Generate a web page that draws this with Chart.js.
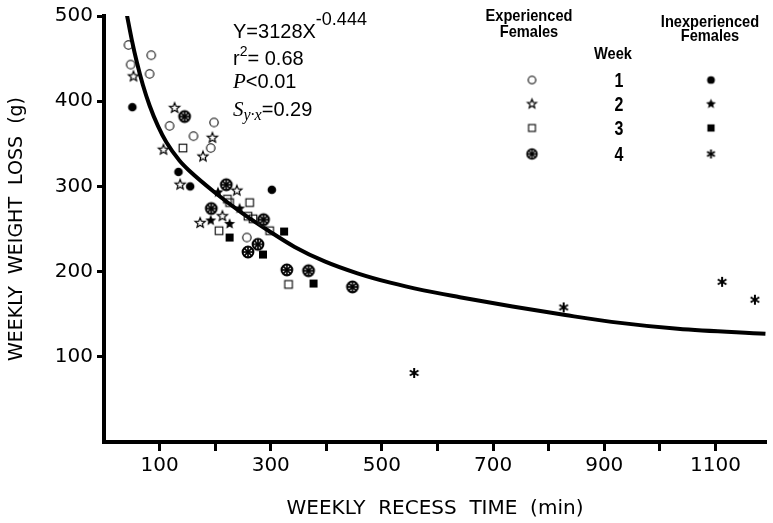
<!DOCTYPE html>
<html>
<head>
<meta charset="utf-8">
<title>Weekly weight loss vs weekly recess time</title>
<script src="https://cdn.jsdelivr.net/npm/chart.js@4.4.0/dist/chart.umd.min.js"></script>
<style>
  html, body { margin: 0; padding: 0; background: #fff; }
  #wrap { position: relative; width: 773px; height: 523px; overflow: hidden; }
  #chart { position: absolute; left: 0; top: 0; }
  .note { position: absolute; font-family: "Liberation Sans", Arial, sans-serif; font-size: 20px; line-height: 20px; color: #000; white-space: nowrap; }
  .it { font-family: "Liberation Serif", "DejaVu Serif", serif; font-style: italic; }
  .key { position: absolute; font-family: "Liberation Sans", Arial, sans-serif; font-weight: bold; font-size: 17px; line-height: 16px; color: #000; text-align: center; white-space: nowrap; transform: translateX(-50%) scaleX(0.86); }
  .num { position: absolute; font-family: "Liberation Sans", Arial, sans-serif; font-weight: bold; font-size: 20px; line-height: 20px; color: #000; transform: translateX(-50%) scaleX(0.8); }
</style>
</head>
<body>
<div id="wrap">
  <canvas id="chart" width="773" height="523"></canvas>

  <!-- regression text -->
  <div class="note" style="left:233px;top:21px">Y=3128X<span style="position:relative;top:-13px;font-size:18px">-0.444</span></div>
  <div class="note" style="left:233px;top:48px">r<span style="position:relative;top:-9px;font-size:14px">2</span>= 0.68</div>
  <div class="note" style="left:233px;top:71px"><span class="it" style="font-size:21px">P</span>&lt;0.01</div>
  <div class="note" style="left:233px;top:99px"><span class="it" style="font-size:21px">S</span><span class="it" style="position:relative;top:4px;font-size:16px">y·x</span>=0.29</div>

  <!-- key headings -->
  <div class="key" style="left:529px;top:8px">Experienced<br>Females</div>
  <div class="key" style="left:613px;top:46px">Week</div>
  <div class="key" style="left:710px;top:15px;line-height:14px">Inexperienced<br>Females</div>
  <div id="weekNums"></div>
</div>

<script>
// Experienced females, week 1..4  [recess min, weight loss g]
const expWeek1 = [[44,466],[85,454],[48,443],[82,432],[198,375],[118,371],[161,359],[192,345],[257,240]];
const expWeek2 = [[53,429],[127,392],[195,357],[107,343],[178,335],[137,302],[239,295],[213,265],[173,257]];
const expWeek3 = [[142,345],[222,285],[226,281],[262,281],[259,265],[268,262],[207,248],[298,248],[332,185]];
const expWeek4 = [[145,382],[220,302],[193,274],[287,261],[277,232],[259,223],[329,202],[368,201],[447,182]];

// Inexperienced females, week 1..4
const inexWeek1 = [[51,393],[134,317],[155,300],[302,296]];
const inexWeek2 = [[205,293],[244,274],[192,260],[226,256]];
const inexWeek3 = [[324,247],[226,240],[286,220],[377,186]];
const inexWeek4 = [[558,81],[827,158],[1112,188],[1171,167]];

// fitted curve
const fitX = [41, 50, 59, 70, 82, 97, 112, 136, 154, 201, 248, 296, 343, 397, 456, 515, 575, 640, 735, 830, 913, 1032, 1190];
const fitY = [502, 472, 446, 419, 395, 371, 352, 330, 318, 292, 269, 248, 229, 212, 198, 187, 178, 170, 159, 149, 141, 133, 127];

// axis ticks (x labelled only on the odd hundreds)
const xTicks = [100, 200, 300, 400, 500, 600, 700, 800, 900, 1000, 1100];
const xTickLabels = ['100', '300', '500', '700', '900', '1100'];
const yTicks = [100, 200, 300, 400, 500];

const weeks = ['1', '2', '3', '4'];

// draw one marker shape onto a small canvas so it can be used as a pointStyle
function makeSymbol(kind, s) {
  const size = Math.ceil(16 * s) + 2;
  const cv = document.createElement('canvas');
  cv.width = size; cv.height = size;
  const ctx = cv.getContext('2d');
  const c = size / 2;
  ctx.strokeStyle = '#000';
  ctx.fillStyle = '#000';

  function star(ro, ri) {
    ctx.beginPath();
    for (let i = 0; i < 10; i++) {
      const r = i % 2 ? ri : ro;
      const a = -Math.PI / 2 + i * Math.PI / 5;
      ctx.lineTo(c + r * Math.cos(a), c + r * Math.sin(a));
    }
    ctx.closePath();
  }

  switch (kind) {
    case 'openCircle':
      ctx.lineWidth = 1.1;
      ctx.beginPath(); ctx.arc(c, c, 4.2 * s, 0, Math.PI * 2); ctx.stroke();
      break;
    case 'openStar':
      ctx.lineWidth = 1.2;
      star(5.3 * s, 2.3 * s); ctx.stroke();
      break;
    case 'openSquare':
      ctx.lineWidth = 1.1;
      ctx.strokeRect(c - 3.8 * s, c - 3.8 * s, 7.6 * s, 7.6 * s);
      break;
    case 'wheel':
      ctx.fillStyle = '#fff';
      ctx.beginPath(); ctx.arc(c, c, 6.3 * s, 0, Math.PI * 2); ctx.fill();
      ctx.lineWidth = 2 * s;
      ctx.beginPath(); ctx.arc(c, c, 5.4 * s, 0, Math.PI * 2); ctx.stroke();
      ctx.lineWidth = 1.7 * s;
      for (let i = 0; i < 4; i++) {
        const a = i * Math.PI / 4;
        ctx.beginPath();
        ctx.moveTo(c - 5.4 * s * Math.cos(a), c - 5.4 * s * Math.sin(a));
        ctx.lineTo(c + 5.4 * s * Math.cos(a), c + 5.4 * s * Math.sin(a));
        ctx.stroke();
      }
      break;
    case 'dot':
      ctx.beginPath(); ctx.arc(c, c, 4.3 * s, 0, Math.PI * 2); ctx.fill();
      break;
    case 'filledStar':
      star(5.8 * s, 2.6 * s); ctx.fill();
      break;
    case 'filledSquare':
      ctx.fillRect(c - 4 * s, c - 4 * s, 8 * s, 8 * s);
      break;
    case 'asterisk':
      ctx.lineWidth = 2 * s;
      for (let i = 0; i < 3; i++) {
        const a = Math.PI / 2 + i * Math.PI / 3;
        ctx.beginPath();
        ctx.moveTo(c - 5 * s * Math.cos(a), c - 5 * s * Math.sin(a));
        ctx.lineTo(c + 5 * s * Math.cos(a), c + 5 * s * Math.sin(a));
        ctx.stroke();
      }
      break;
  }
  return cv;
}

const expShapes = ['openCircle', 'openStar', 'openSquare', 'wheel'];
const inexShapes = ['dot', 'filledStar', 'filledSquare', 'asterisk'];

function toPoints(arr) {
  return arr.map(p => ({ x: p[0], y: p[1] }));
}

function pointSet(label, arr, shape) {
  return {
    label: label,
    data: toPoints(arr),
    pointStyle: makeSymbol(shape, 1),
    pointRadius: 6,
    showLine: false
  };
}

const expGroups = [expWeek1, expWeek2, expWeek3, expWeek4];
const inexGroups = [inexWeek1, inexWeek2, inexWeek3, inexWeek4];

const datasets = [];
expGroups.forEach((g, i) => datasets.push(pointSet('Experienced week ' + weeks[i], g, expShapes[i])));
inexGroups.forEach((g, i) => datasets.push(pointSet('Inexperienced week ' + weeks[i], g, inexShapes[i])));

// curve last so the markers sit on top of it
datasets.push({
  type: 'line',
  label: 'Y=3128X^-0.444',
  data: fitX.map((x, i) => ({ x: x, y: fitY[i] })),
  borderColor: '#000',
  borderWidth: 4,
  pointRadius: 0,
  fill: false,
  cubicInterpolationMode: 'monotone'
});

// week numbers in the key
const keyRows = [80, 104, 128, 154];
const numBox = document.getElementById('weekNums');
weeks.forEach((w, i) => {
  const d = document.createElement('div');
  d.className = 'num';
  d.style.left = '619px';
  d.style.top = (keyRows[i] - 10) + 'px';
  d.textContent = w;
  numBox.appendChild(d);
});

// key symbols drawn next to the week numbers
const keyPlugin = {
  id: 'keySymbols',
  afterDraw(chart) {
    const ctx = chart.ctx;
    keyRows.forEach((y, i) => {
      const a = makeSymbol(expShapes[i], 0.9);
      const b = makeSymbol(inexShapes[i], 0.9);
      ctx.drawImage(a, 532 - a.width / 2, y - a.height / 2);
      ctx.drawImage(b, 711 - b.width / 2, y - b.height / 2);
    });
  }
};

new Chart(document.getElementById('chart'), {
  type: 'scatter',
  data: { datasets: datasets },
  options: {
    responsive: false,
    animation: false,
    devicePixelRatio: 1,
    events: [],
    layout: { padding: { top: 13, right: 0, bottom: 0, left: 0 } },
    plugins: { legend: { display: false }, tooltip: { enabled: false } },
    scales: {
      x: {
        type: 'linear',
        min: 0,
        max: 1191,
        afterBuildTicks: s => { s.ticks = xTicks.map(v => ({ value: v })); },
        afterFit: s => { s.height = 81; },
        ticks: {
          autoSkip: false,
          maxRotation: 0,
          padding: 3,
          color: '#000',
          font: { family: 'DejaVu Sans', size: 20 },
          callback: v => (xTickLabels.includes(String(v)) ? String(v) : '')
        },
        grid: { drawOnChartArea: false, drawTicks: true, tickLength: 9, tickWidth: 3, tickColor: '#000' },
        border: { display: true, color: '#000', width: 4 },
        title: {
          display: true,
          text: 'WEEKLY  RECESS  TIME  (min)',
          color: '#000',
          font: { family: 'DejaVu Sans', size: 20 },
          padding: { top: 0, bottom: 2 }
        }
      },
      y: {
        min: 0,
        max: 500,
        afterBuildTicks: s => { s.ticks = yTicks.map(v => ({ value: v })); },
        afterFit: s => { s.width = 104; },
        ticks: {
          padding: 4,
          color: '#000',
          font: { family: 'DejaVu Sans', size: 20 }
        },
        grid: { drawOnChartArea: false, drawTicks: true, tickLength: 7, tickWidth: 3, tickColor: '#000' },
        border: { display: true, color: '#000', width: 4 },
        title: {
          display: true,
          text: 'WEEKLY  WEIGHT  LOSS  (g)',
          color: '#000',
          font: { family: 'DejaVu Sans', size: 19 },
          padding: { top: 6, bottom: 0 }
        }
      }
    }
  },
  plugins: [keyPlugin]
});
</script>
</body>
</html>
